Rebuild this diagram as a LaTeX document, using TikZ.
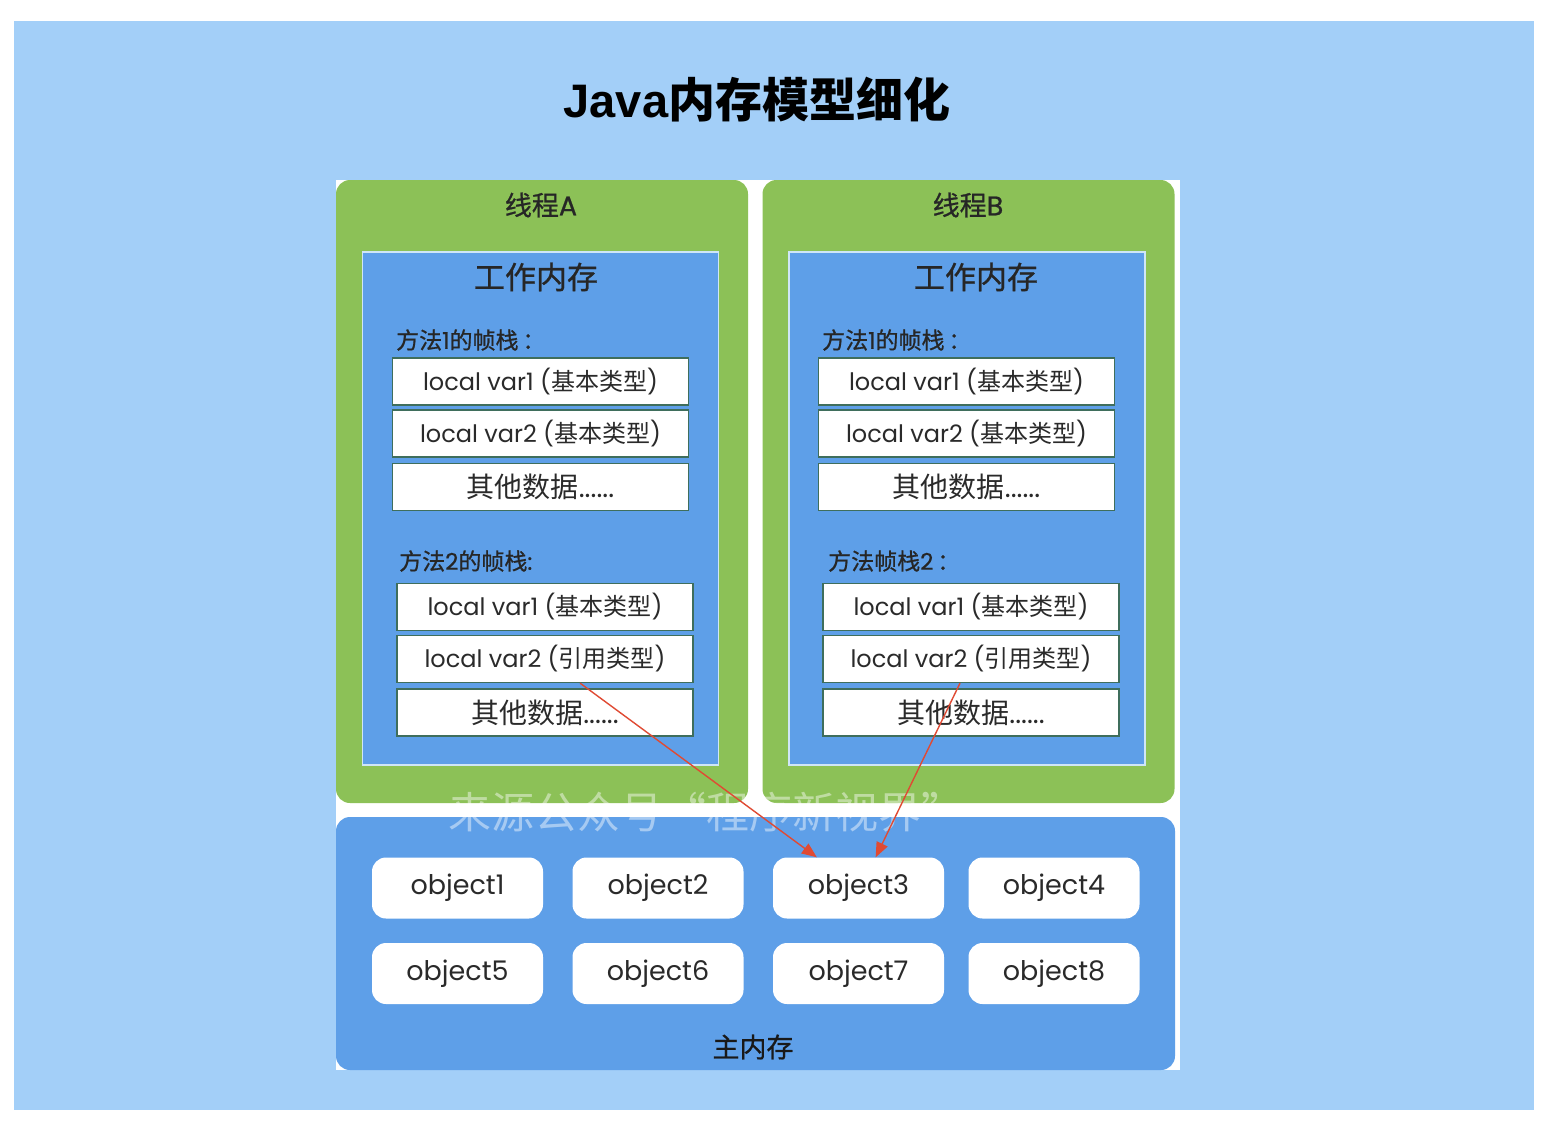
\documentclass[tikz,border=0pt]{standalone}
\usepackage{fontspec}
\setmainfont{Poppins}
\newfontfamily\cjkfont{Noto Sans CJK SC}
\newfontfamily\cjkmed{Noto Sans CJK SC}[FakeBold=0.8]
\newfontfamily\latmed{Poppins}[FakeBold=0.8]
\newfontfamily\titlelat{Liberation Sans}
\newcommand\myzh[1]{{\cjkfont #1}}
\newcommand\myzhm[1]{{\cjkmed #1}}
\usetikzlibrary{arrows.meta,calc}
\definecolor{bgblue}{HTML}{A3CFF8}
\definecolor{grn}{HTML}{8CC157}
\definecolor{blu}{HTML}{5E9FE8}
\definecolor{frmline}{HTML}{3F6E5C}
\definecolor{wline}{HTML}{CFE6F7}
\definecolor{txt}{HTML}{2A2A2A}
\definecolor{arr}{HTML}{E04A33}
\tikzset{
  greenbox/.style={fill=grn, rounded corners=14pt, minimum width=412pt, minimum height=623pt, inner sep=0pt},
  workbox/.style={fill=blu, draw=wline, line width=1.5pt, minimum width=356pt, minimum height=513pt, inner sep=0pt},
  mainbox/.style={fill=blu, rounded corners=14pt, minimum width=839pt, minimum height=253pt, inner sep=0pt},
  frmbox/.style={fill=white, draw=frmline, line width=1.3pt, minimum width=296pt, minimum height=47pt, inner sep=0pt, text=txt, font=\fontsize{24}{24}\selectfont},
  objbox/.style={fill=white, rounded corners=14pt, minimum width=171pt, minimum height=61pt, inner sep=0pt, text=txt, font=\fontsize{27}{27}\selectfont},
  thlabel/.style={text=black!85, font=\fontsize{27}{27}\latmed, inner sep=0pt},
  wmlabel/.style={text=black!85, font=\fontsize{31}{31}\selectfont, inner sep=0pt},
  stlabel/.style={text=black!85, font=\fontsize{23}{23}\latmed, inner sep=0pt, anchor=west},
  refarrow/.style={draw=arr, line width=1.4pt, -{Triangle[length=15pt,width=12pt]}}
}
\begin{document}
\begin{tikzpicture}[x=1pt,y=-1pt]
\useasboundingbox (0,0) rectangle (1550,1132);
\fill[white] (0,0) rectangle (1550,1132);
\fill[bgblue] (14,21) rectangle (1534,1110);
\node[font=\fontsize{47}{47}\selectfont\bfseries, text=black, inner sep=0pt] (title) at (757,100) {{\titlelat Java}\myzh{内存模型细化}};
\fill[white] (336,180) rectangle (1180,1070);
% threads
\node[greenbox] (gA) at (542,491.5) {};
\node[greenbox] (gB) at (968.5,491.5) {};
\node[thlabel] (lA) at (541,205) {\myzhm{线程}A};
\node[thlabel] (lB) at (968,205) {\myzhm{线程}B};
\node[workbox] (wA) at (540.5,508.5) {};
\node[workbox] (wB) at (967,508.5) {};
\node[wmlabel] (wmA) at (536,277) {\myzhm{工作内存}};
\node[wmlabel] (wmB) at (976,277) {\myzhm{工作内存}};
% thread A frames
\node[stlabel] (sA1) at (396,340) {\myzhm{方法}1\myzhm{的帧栈}\,\myzhm{：}};
\node[frmbox] (a1v1) at (540.5,381.5) {local var1 (\myzh{基本类型})};
\node[frmbox] (a1v2) at (540.5,433.5) {local var2 (\myzh{基本类型})};
\node[frmbox, font=\fontsize{28}{28}\selectfont] (a1o) at (540.5,487) {\myzh{其他数据}......};
\node[stlabel] (sA2) at (399,561) {\myzhm{方法}2\myzhm{的帧栈}:};
\node[frmbox] (a2v1) at (545,607) {local var1 (\myzh{基本类型})};
\node[frmbox] (a2v2) at (545,659) {local var2 (\myzh{引用类型})};
\node[frmbox, font=\fontsize{28}{28}\selectfont] (a2o) at (545,712.5) {\myzh{其他数据}......};
% thread B frames
\node[stlabel] (sB1) at (822,340) {\myzhm{方法}1\myzhm{的帧栈}\,\myzhm{：}};
\node[frmbox] (b1v1) at (966.5,381.5) {local var1 (\myzh{基本类型})};
\node[frmbox] (b1v2) at (966.5,433.5) {local var2 (\myzh{基本类型})};
\node[frmbox, font=\fontsize{28}{28}\selectfont] (b1o) at (966.5,487) {\myzh{其他数据}......};
\node[stlabel] (sB2) at (828,561) {\myzhm{方法帧栈}2\,\myzhm{：}};
\node[frmbox] (b2v1) at (971,607) {local var1 (\myzh{基本类型})};
\node[frmbox] (b2v2) at (971,659) {local var2 (\myzh{引用类型})};
\node[frmbox, font=\fontsize{28}{28}\selectfont] (b2o) at (971,712.5) {\myzh{其他数据}......};
% main memory
\node[mainbox] (main) at (755.5,943.5) {};
\node[objbox] (o1) at (457.5,888) {object1};
\node[objbox] (o2) at (658,888) {object2};
\node[objbox] (o3) at (858.5,888) {object3};
\node[objbox] (o4) at (1054,888) {object4};
\node[objbox] (o5) at (457.5,973.5) {object5};
\node[objbox] (o6) at (658,973.5) {object6};
\node[objbox] (o7) at (858.5,973.5) {object7};
\node[objbox] (o8) at (1054,973.5) {object8};
\node[thlabel, text=black!90] (ml) at (753,1047) {\myzhm{主内存}};
% watermark
\node[text=white, opacity=0.45, font=\fontsize{43}{43}\selectfont, inner sep=0pt] (wm) at (706,812) {\myzh{来源公众号“程序新视界”}};
% references
\draw[refarrow] ($(a2v2.south west)!0.618!(a2v2.south east)$) -- ($(o3.north west)!0.257!(o3.north east)$);
\draw[refarrow] ($(b2v2.south west)!0.463!(b2v2.south east)$) -- ($(o3.north west)!0.60!(o3.north east)$);
\end{tikzpicture}
\end{document}
